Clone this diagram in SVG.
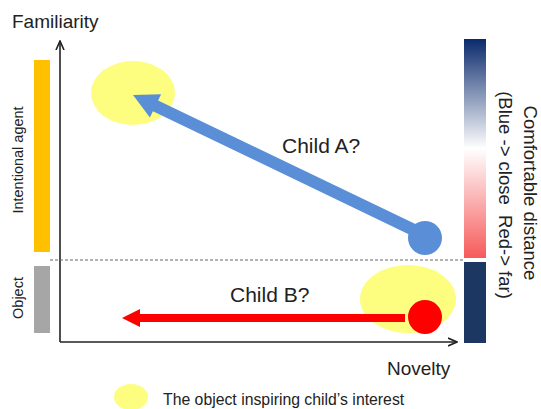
<svg xmlns="http://www.w3.org/2000/svg" width="541" height="409" viewBox="0 0 541 409">
<style>
.t{font-family:"Liberation Sans",Arial,sans-serif;fill:#222}
.yel{fill:#fdfd80}
</style>
<defs>
<linearGradient id="g" x1="0" y1="0" x2="0" y2="1">
<stop offset="0" stop-color="#0a2a6c"/>
<stop offset="0.5" stop-color="#ffffff"/>
<stop offset="1" stop-color="#f65a5a"/>
</linearGradient>
<marker id="ah" viewBox="0 0 10 10" refX="9" refY="5" markerWidth="10" markerHeight="10" markerUnits="userSpaceOnUse" orient="auto">
<path d="M0,1 L9,5 L0,9" fill="none" stroke="#222" stroke-width="1.6"/>
</marker>
</defs>
<rect width="541" height="409" fill="#fff"/>
<g id="labels">
<text class="t" x="12" y="28" font-size="19">Familiarity</text>
<text class="t" x="387" y="375" font-size="19">Novelty</text>
<text class="t" transform="translate(23,160) rotate(-90)" text-anchor="middle" font-size="14.5">Intentional agent</text>
<text class="t" transform="translate(23,298) rotate(-90)" text-anchor="middle" font-size="14.5">Object</text>
<text class="t" transform="translate(524,193) rotate(90)" text-anchor="middle" font-size="18.5">Comfortable distance</text>
<text class="t" xml:space="preserve" transform="translate(499,195) rotate(90)" text-anchor="middle" font-size="18.5">(Blue -&gt; close  Red-&gt; far)</text>
<text class="t" x="282" y="153" font-size="21">Child A?</text>
<text class="t" x="230" y="302" font-size="21">Child B?</text>
</g>
<g id="bars">
<rect x="34" y="60" width="16" height="192" fill="#ffc000"/>
<rect x="34" y="266" width="16" height="67" fill="#a6a6a6"/>
<rect x="464" y="39" width="22" height="219" fill="url(#g)"/>
<rect x="464" y="262" width="22" height="81" fill="#1c3862"/>
</g>
<g id="axes">
<line x1="60" y1="342" x2="60" y2="41" stroke="#222" stroke-width="1.6" marker-end="url(#ah)"/>
<line x1="60" y1="342" x2="457" y2="342" stroke="#222" stroke-width="1.6" marker-end="url(#ah)"/>
<line x1="50" y1="260" x2="463" y2="260" stroke="#666" stroke-width="1" stroke-dasharray="3,2"/>
</g>
<g id="interestA"><ellipse class="yel" cx="133" cy="93" rx="42" ry="32"/></g>
<g id="interestB"><ellipse class="yel" cx="408" cy="299" rx="48" ry="34"/></g>
<g id="connectors">
<polygon fill="#5a8fd8" points="133,95 161.1,94.2 158.1,100.5 420.6,226.6 415.4,237.4 152.9,111.3 149.9,117.6"/>
<polygon fill="#fe0000" points="122,318 140,309 140,314 405,314 405,322 140,322 140,327"/>
</g>
<g id="childA"><circle cx="425" cy="238" r="17" fill="#5a8fd8"/></g>
<g id="childB"><circle cx="425" cy="317" r="17" fill="#fe0000"/></g>
<g id="legend">
<ellipse class="yel" cx="131" cy="397" rx="17" ry="13"/>
<text class="t" x="163" y="405" font-size="15.8">The object inspiring child’s interest</text>
</g>
</svg>
